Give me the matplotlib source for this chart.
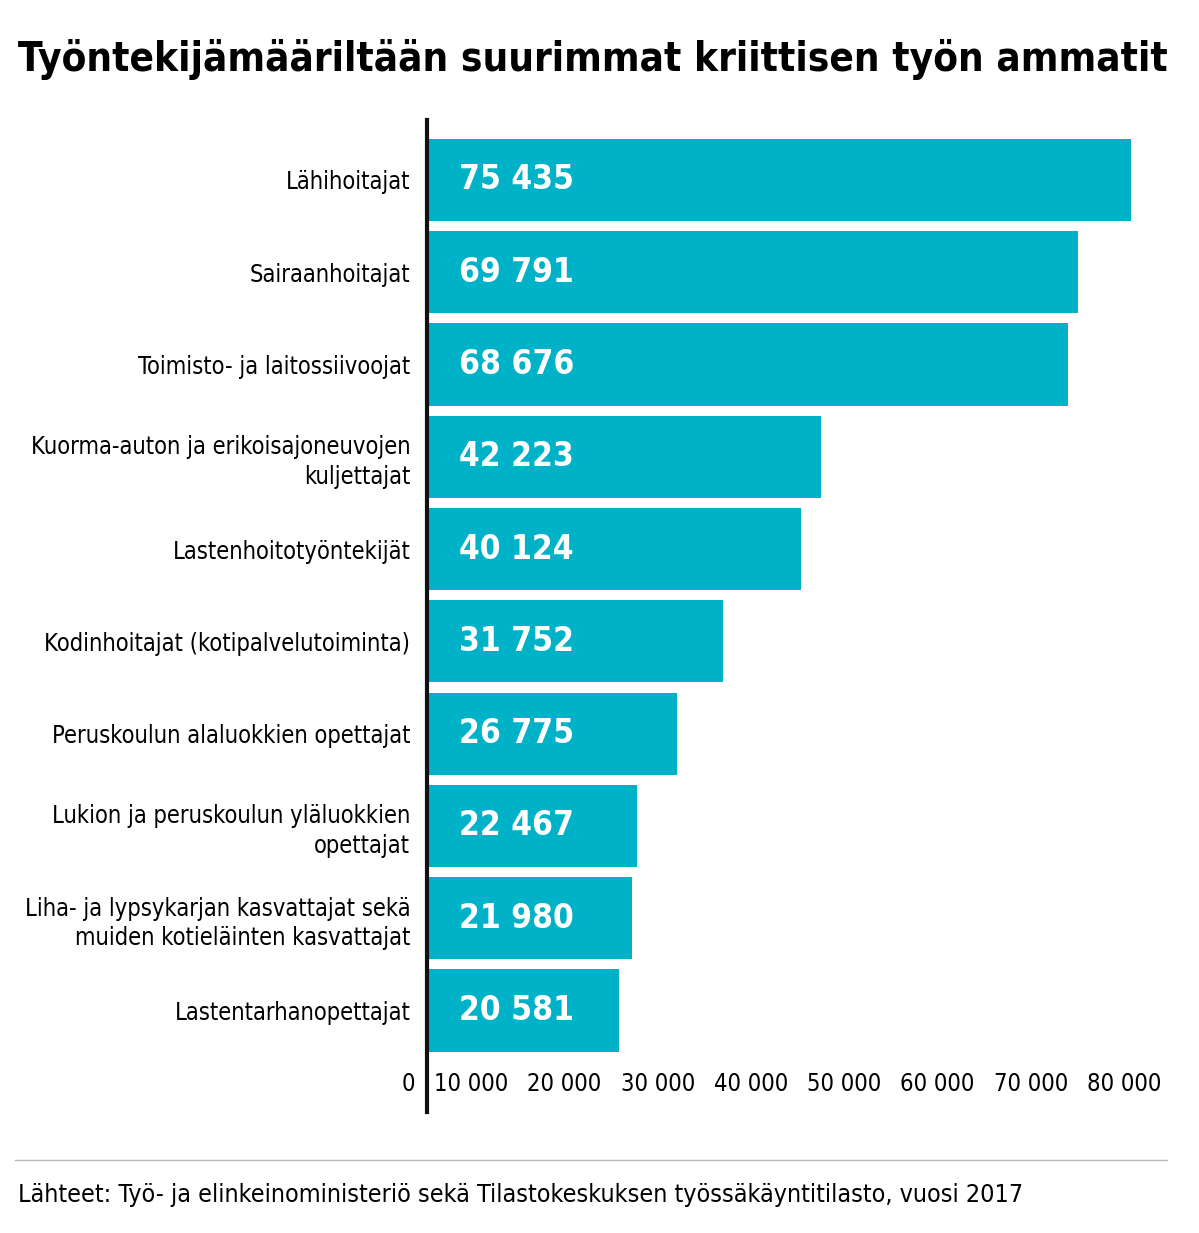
import matplotlib
matplotlib.use("Agg")
import matplotlib.pyplot as plt
from matplotlib.lines import Line2D

categories = ["Lähihoitajat", "Sairaanhoitajat", "Toimisto- ja laitossiivoojat",
              "Kuorma-auton ja erikoisajoneuvojen\nkuljettajat", "Lastenhoitotyöntekijät",
              "Kodinhoitajat (kotipalvelutoiminta)", "Peruskoulun alaluokkien opettajat",
              "Lukion ja peruskoulun yläluokkien\nopettajat",
              "Liha- ja lypsykarjan kasvattajat sekä\nmuiden kotieläinten kasvattajat",
              "Lastentarhanopettajat"]
values = [75435, 69791, 68676, 42223, 40124, 31752, 26775, 22467, 21980, 20581]
labels = ["75 435", "69 791", "68 676", "42 223", "40 124", "31 752", "26 775", "22 467", "21 980", "20 581"]
ticks = [0, 10000, 20000, 30000, 40000, 50000, 60000, 70000, 80000]
tick_labels = ["0", "10 000", "20 000", "30 000", "40 000", "50 000", "60 000", "70 000", "80 000"]

W, H = 1199, 1233
fig = plt.figure(figsize=(W/100, H/100), dpi=100)
fam = "DejaVu Sans"
ax = fig.add_axes([427/W, 1 - 1112/H, (1199-427)/W, (1112-120)/H])
n = len(values)
ys = list(range(n))
ax.barh(ys, values, height=0.89, color="#00b2c7")
ax.set_ylim(n - 1 + 1.1, -0.65)
ax.set_xlim(0, 772/9.33*1000)
for y, l in zip(ys, labels):
    ax.text(3400, y, l, color="white", fontsize=24, fontweight="bold",
            fontstretch="condensed", family=fam, va="center", ha="left")
ax.set_yticks(ys)
ax.set_yticklabels(categories, fontsize=17, family=fam, fontstretch="condensed",
                   ha="right", linespacing=1.3)
ax.tick_params(axis="y", length=0, pad=12)
ax.set_xticks([])
for t, tl in zip(ticks, tick_labels):
    ax.text(t - 1300, n - 1 + 0.8, tl, ha="right", va="center", fontsize=17,
            family=fam, fontstretch="condensed")
for s in ["top", "right", "bottom"]:
    ax.spines[s].set_visible(False)
ax.spines["left"].set_linewidth(3)
ax.spines["left"].set_color("#111111")

fig.text(18/W, 1 - 60/H, "Työntekijämääriltään suurimmat kriittisen työn ammatit",
         fontsize=29, fontweight="bold", family=fam, fontstretch="condensed", va="center")
fig.add_artist(Line2D([15/W, 1167/W], [1 - 1160/H]*2, color="#bbbbbb", lw=1))
fig.text(18/W, 1 - 1195/H,
         "Lähteet: Työ- ja elinkeinoministeriö sekä Tilastokeskuksen työssäkäyntitilasto, vuosi 2017",
         fontsize=18, family=fam, fontstretch="condensed", va="center")
fig.savefig("out.png", dpi=100)
